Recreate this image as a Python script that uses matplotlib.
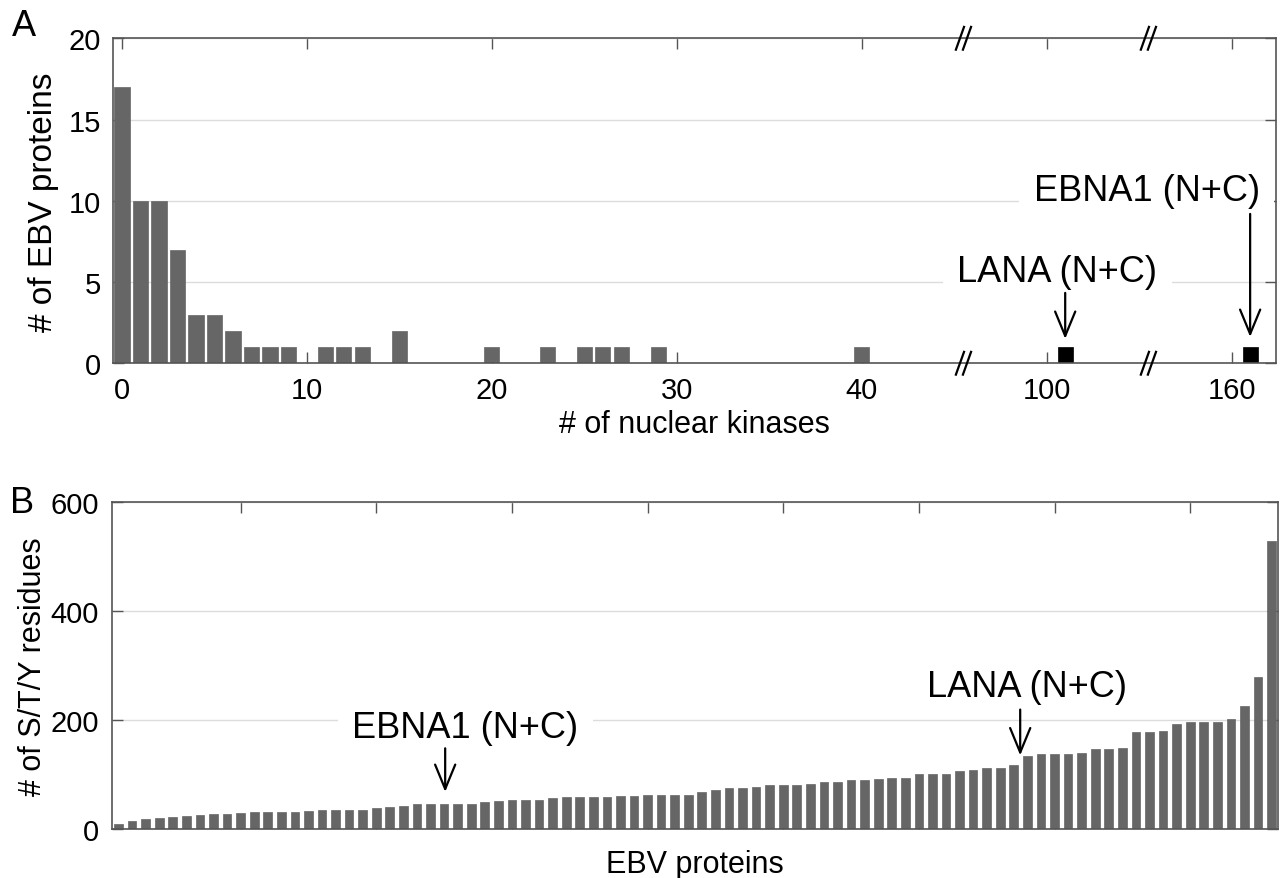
import matplotlib
matplotlib.use('Agg')
import matplotlib.pyplot as plt
import matplotlib.transforms as mtransforms

plt.rcParams['font.family'] = ['Liberation Sans', 'DejaVu Sans']

# panel A: histogram of nuclear kinases per EBV protein
kinase_counts = [0, 1, 2, 3, 4, 5, 6, 7, 8, 9, 11, 12, 13, 15, 20, 23, 25, 26, 27, 29, 40]
protein_counts = [17, 10, 10, 7, 3, 3, 2, 1, 1, 1, 1, 1, 1, 2, 1, 1, 1, 1, 1, 1, 1]
hl_kinases = [101, 161]
hl_counts = [1, 1]
hl_names = ['LANA (N+C)', 'EBNA1 (N+C)']
a_ticks = [0, 10, 20, 30, 40, 100, 160]

# panel B: S/T/Y residues per EBV protein (sorted)
sty_counts = [9, 14, 18, 20, 22, 24, 26, 28, 28, 29,
              31, 31, 31, 32, 33, 34, 34, 35, 35, 39,
              40, 42, 45, 45, 45, 46, 46, 49, 51, 53,
              54, 54, 56, 58, 58, 58, 59, 61, 61, 62,
              63, 63, 63, 67, 72, 75, 75, 77, 80, 81,
              81, 82, 87, 87, 89, 90, 91, 93, 94, 101,
              101, 101, 107, 108, 111, 112, 118, 133, 137, 138,
              138, 140, 146, 146, 149, 177, 178, 180, 193, 196,
              196, 196, 202, 226, 278, 528]
ranks = list(range(1, len(sty_counts) + 1))


def kin_pos(k):
    # broken axis: 0-45 as is, then 100 and 160 regions squeezed in
    if k <= 45:
        return k
    elif k < 130:
        return k - 50
    return k - 100


bar_col = '#666666'
spine_col = '#555555'
grid_col = '#dcdcdc'

fig = plt.figure(figsize=(12.8, 8.79), dpi=100)
axA = fig.add_axes([0.0885, 0.5856, 0.9084, 0.3697])
axB = fig.add_axes([0.0873, 0.0557, 0.9114, 0.3724])

for ax in (axA, axB):
    ax.set_axisbelow(True)
    ax.yaxis.grid(True, color=grid_col, lw=1.0)
    for s in ax.spines.values():
        s.set_color(spine_col)
        s.set_linewidth(1.2)
    ax.tick_params(direction='in', length=8, width=1, top=True, right=True,
                   color=spine_col, labelcolor='black', labelsize=21, pad=9)

# ---- A ----
axA.bar([kin_pos(k) for k in kinase_counts], protein_counts, width=0.82,
        color=bar_col, edgecolor=bar_col, lw=0.5)
axA.bar([kin_pos(k) for k in hl_kinases], hl_counts, width=0.82,
        color='black', edgecolor='black', lw=0.5)
axA.set_xlim(-0.47, 62.4)
axA.set_ylim(0, 20)
axA.set_yticks([0, 5, 10, 15, 20])
axA.set_xticks([kin_pos(k) for k in a_ticks])
axA.set_xticklabels([str(k) for k in a_ticks])
axA.set_ylabel('# of EBV proteins', fontsize=24)
axA.yaxis.set_label_coords(-0.0465, 0.5)
axA.set_xlabel('# of nuclear kinases', fontsize=22)
axA.xaxis.set_label_coords(0.5, -0.14)

# break marks
trans = mtransforms.blended_transform_factory(axA.transData, axA.transAxes)
for bp in [45.5, 55.5]:
    for dx in [-0.19, 0.19]:
        for yb in [0, 1]:
            axA.plot([bp + dx - 0.22, bp + dx + 0.22], [yb - 0.035, yb + 0.035],
                     transform=trans, color='black', lw=1.6, clip_on=False, zorder=5)

box = dict(facecolor='white', edgecolor='none', boxstyle='square,pad=0.4')
arw = dict(arrowstyle='->,head_length=0.8,head_width=0.33', lw=1.6, color='black',
           mutation_scale=22, shrinkA=0, shrinkB=0)

axA.text(kin_pos(101) - 0.43, 5.06, hl_names[0], fontsize=26, ha='center',
         va='baseline', bbox=box, zorder=3)
axA.annotate('', xy=(kin_pos(101), 1.5), xytext=(kin_pos(101), 4.33), arrowprops=arw)
axA.text(kin_pos(161) - 5.6, 10.07, hl_names[1], fontsize=26, ha='center',
         va='baseline', bbox=box, zorder=3)
axA.annotate('', xy=(kin_pos(161), 1.62), xytext=(kin_pos(161), 9.19), arrowprops=arw)

fig.text(0.0095, 0.970, 'A', fontsize=26, ha='left', va='center')

# ---- B ----
axB.bar(ranks, sty_counts, width=0.64, color=bar_col, edgecolor=bar_col, lw=0.5)
axB.set_xlim(0.5, len(sty_counts) + 0.5)
axB.set_ylim(0, 600)
axB.set_yticks([0, 200, 400, 600])
axB.set_xticks(range(10, 81, 10))
axB.tick_params(labelbottom=False)
axB.set_ylabel('# of S/T/Y residues', fontsize=22)
axB.yaxis.set_label_coords(-0.055, 0.5)
axB.set_xlabel('EBV proteins', fontsize=22)
axB.xaxis.set_label_coords(0.5, -0.062)

axB.text(26.55, 168, 'EBNA1 (N+C)', fontsize=26, ha='center', va='baseline',
         bbox=box, zorder=3)
axB.annotate('', xy=(25.08, 68), xytext=(25.08, 148), arrowprops=arw)
axB.text(67.97, 244, 'LANA (N+C)', fontsize=26, ha='center', va='baseline',
         bbox=box, zorder=3)
axB.annotate('', xy=(67.47, 135), xytext=(67.47, 219), arrowprops=arw)

fig.text(0.0075, 0.4275, 'B', fontsize=26, ha='left', va='center')

fig.savefig('out.png', dpi=100)
